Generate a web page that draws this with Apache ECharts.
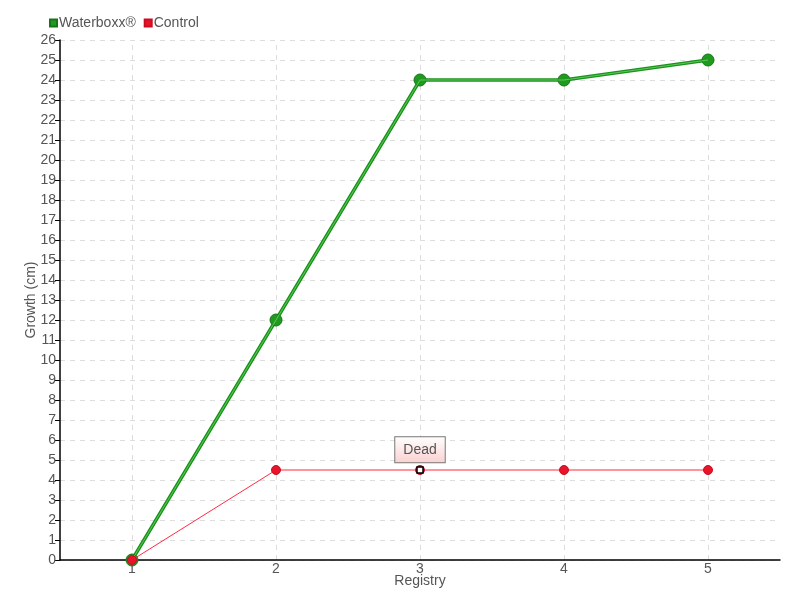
<!DOCTYPE html>
<html><head><meta charset="utf-8">
<script src="https://cdn.jsdelivr.net/npm/echarts@6/dist/echarts.min.js"></script>
<style>html,body{margin:0;padding:0;background:#fff}#c{width:800px;height:600px}</style>
</head><body><div id="c"></div>
<script>
const categories = ['1','2','3','4','5'];
const waterboxx = [0, 12, 24, 24, 25];
const control = [0, 4.5, 4.5, 4.5, 4.5];
const deadIndex = 2;
const deadLabel = 'Dead';
const yMin = 0, yMax = 26, yInterval = 1;

const FONT = "'Liberation Sans', sans-serif";
const TXT = '#555';
const chart = echarts.init(document.getElementById('c'), null, {renderer:'canvas'});
chart.setOption({
  animation: false,
  textStyle: {fontFamily: FONT, color: TXT},
  legend: {
    left: 44, top: 11, itemWidth: 7, itemHeight: 7, itemGap: 8,
    icon: 'rect',
    textStyle: {fontFamily: FONT, fontSize: 14, color: TXT, padding: [0,0,0,-3]},
    data: ['Waterboxx®', 'Control']
  },
  grid: {left: 60, right: 20, top: 40, bottom: 40},
  xAxis: {
    type: 'category', data: categories, boundaryGap: true,
    name: 'Registry', nameLocation: 'middle', nameGap: 14, nameMoveOverlap: false,
    nameTextStyle: {fontFamily: FONT, fontSize: 14, color: TXT},
    axisLine: {lineStyle: {color: '#000', width: 1.5}},
    axisTick: {alignWithLabel: true, length: 5, lineStyle: {color: '#333'}},
    axisLabel: {fontFamily: FONT, fontSize: 14, color: TXT, margin: 2},
    splitLine: {show: false}
  },
  yAxis: {
    type: 'value', min: yMin, max: yMax, interval: yInterval,
    name: 'Growth (cm)', nameLocation: 'middle', nameGap: 22, nameMoveOverlap: false,
    nameTextStyle: {fontFamily: FONT, fontSize: 14, color: TXT},
    axisLine: {show: true, lineStyle: {color: '#000', width: 1.5}},
    axisTick: {show: true, length: 5, lineStyle: {color: '#000'}},
    axisLabel: {fontFamily: FONT, fontSize: 14, color: TXT, margin: 4},
    splitLine: {show: true, lineStyle: {color: '#ddd', type: [5,5]}}
  },
  series: [
    {
      name: 'grid-v', type: 'line', data: waterboxx, symbol: 'none', silent: true,
      lineStyle: {opacity: 0}, z: 0,
      markLine: {
        silent: true, symbol: ['none','none'], label: {show: false}, z: 0,
        lineStyle: {color: '#ddd', type: [5,5], width: 1},
        data: categories.map(c => ({xAxis: c}))
      }
    },
    {
      name: 'Waterboxx®', type: 'line', data: waterboxx,
      symbol: 'circle', symbolSize: 12,
      itemStyle: {color: '#1f9a1f', borderColor: '#167516', borderWidth: 1},
      lineStyle: {color: '#1a931a', width: 3.5},
      z: 2
    },
    {
      name: 'Waterboxx®-inner', type: 'line', data: waterboxx,
      symbol: 'none', lineStyle: {color: '#5cc85c', width: 1}, z: 3, silent: true
    },
    {
      name: 'Control', type: 'line', data: control,
      symbol: 'circle', symbolSize: 9,
      itemStyle: {color: '#e8142c', borderColor: '#c80f22', borderWidth: 1},
      lineStyle: {color: '#ff2a40', width: 1},
      z: 4,
      markPoint: {
        symbol: 'rect', symbolSize: 6,
        itemStyle: {color: '#fff', borderColor: '#000', borderWidth: 1.5},
        label: {
          show: true, position: 'top', distance: 4,
          formatter: deadLabel, fontFamily: FONT, fontSize: 14, color: TXT,
          padding: [6, 8, 5, 8],
          borderColor: '#777', borderWidth: 1,
          backgroundColor: {type: 'linear', x: 0, y: 0, x2: 0, y2: 1,
            colorStops: [{offset: 0, color: '#ffffff'}, {offset: 1, color: '#fbd0d0'}]}
        },
        data: [{coord: [categories[deadIndex], control[deadIndex]]}]
      }
    }
  ]
});
</script></body></html>
